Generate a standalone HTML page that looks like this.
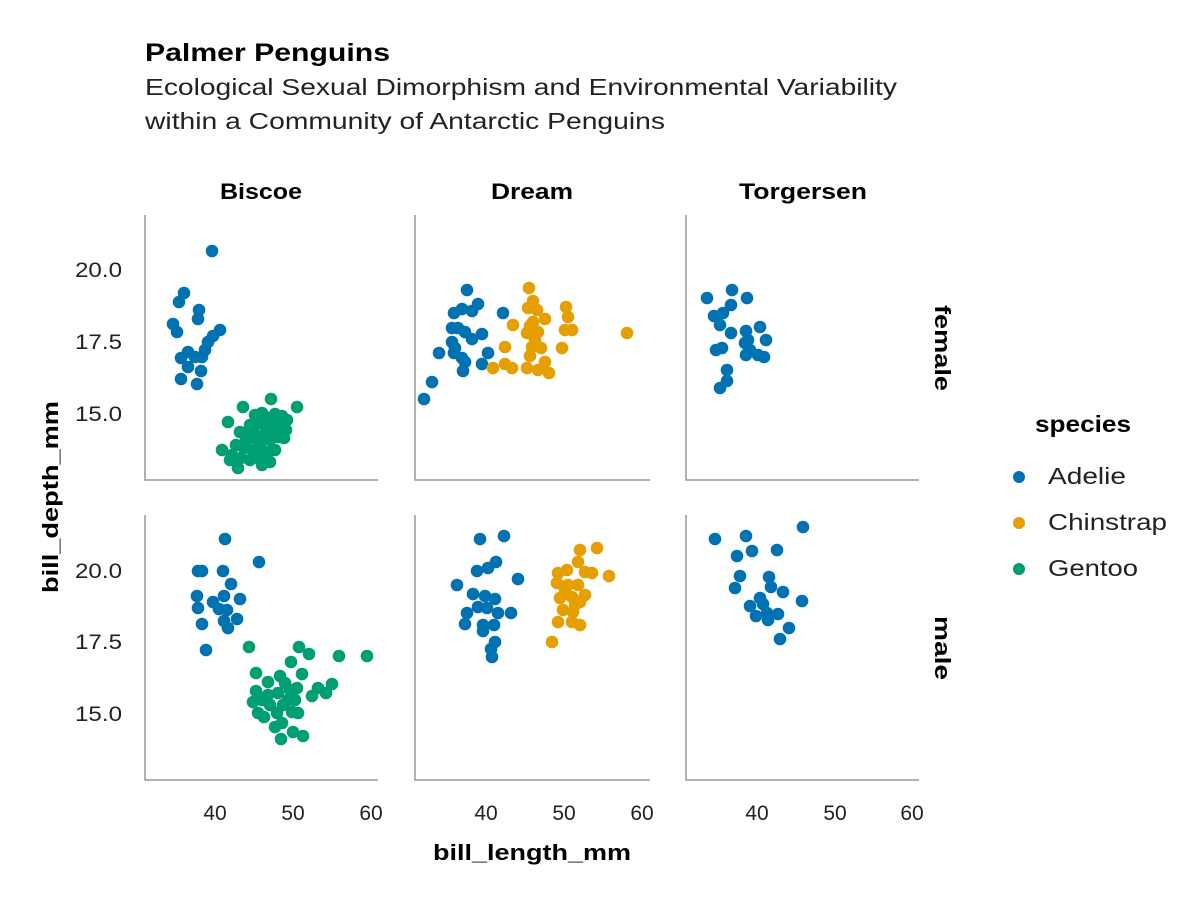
<!DOCTYPE html>
<html><head><meta charset="utf-8"><style>
body{margin:0;background:#fff;font-family:"Liberation Sans",sans-serif}
</style></head><body>
<svg width="1200" height="900" xmlns="http://www.w3.org/2000/svg" font-family="Liberation Sans, sans-serif">
<text x="145" y="61" font-size="25" font-weight="bold" fill="#000" textLength="245" lengthAdjust="spacingAndGlyphs">Palmer Penguins</text>
<text x="145" y="95" font-size="23" fill="#222" textLength="752" lengthAdjust="spacingAndGlyphs">Ecological Sexual Dimorphism and Environmental Variability</text>
<text x="145" y="129" font-size="23" fill="#222" textLength="520" lengthAdjust="spacingAndGlyphs">within a Community of Antarctic Penguins</text>
<g font-size="22" font-weight="bold" fill="#000">
<text x="220" y="199" textLength="82" lengthAdjust="spacingAndGlyphs">Biscoe</text><text x="491" y="199" textLength="82" lengthAdjust="spacingAndGlyphs">Dream</text><text x="739" y="199" textLength="128" lengthAdjust="spacingAndGlyphs">Torgersen</text>
<text transform="translate(935,305) rotate(90)" textLength="86" lengthAdjust="spacingAndGlyphs">female</text>
<text transform="translate(935,616) rotate(90)" textLength="64" lengthAdjust="spacingAndGlyphs">male</text>
<text x="433" y="860" textLength="198" lengthAdjust="spacingAndGlyphs">bill_length_mm</text>
<text transform="translate(58,593) rotate(-90)" textLength="192" lengthAdjust="spacingAndGlyphs">bill_depth_mm</text>
</g>
<g stroke="#999" stroke-width="1.5" fill="none">
<path d="M145,215V480H378"/><path d="M415,215V480H650"/><path d="M686,215V480H919"/>
<path d="M145,515V780H378"/><path d="M415,515V780H650"/><path d="M686,515V780H919"/>
</g>
<g font-size="21" fill="#222" text-anchor="end">
<text x="122" y="277" textLength="47" lengthAdjust="spacingAndGlyphs">20.0</text><text x="122" y="349" textLength="47" lengthAdjust="spacingAndGlyphs">17.5</text><text x="122" y="421" textLength="47" lengthAdjust="spacingAndGlyphs">15.0</text>
<text x="122" y="578" textLength="47" lengthAdjust="spacingAndGlyphs">20.0</text><text x="122" y="649" textLength="47" lengthAdjust="spacingAndGlyphs">17.5</text><text x="122" y="721" textLength="47" lengthAdjust="spacingAndGlyphs">15.0</text>
</g>
<g font-size="21" fill="#222" text-anchor="middle">
<text x="215" y="820">40</text><text x="293" y="820">50</text><text x="371" y="820">60</text>
<text x="486" y="820">40</text><text x="564" y="820">50</text><text x="642" y="820">60</text>
<text x="757" y="820">40</text><text x="835" y="820">50</text><text x="912" y="820">60</text>
</g>
<text x="1035" y="432" font-size="23" font-weight="bold" textLength="96" lengthAdjust="spacingAndGlyphs">species</text>
<circle cx="1019" cy="477" r="6" fill="#0072b2"/><text x="1048" y="484" font-size="23" fill="#222" textLength="78" lengthAdjust="spacingAndGlyphs">Adelie</text>
<circle cx="1019" cy="523" r="6" fill="#e69f00"/><text x="1048" y="530" font-size="23" fill="#222" textLength="119" lengthAdjust="spacingAndGlyphs">Chinstrap</text>
<circle cx="1019" cy="569" r="6" fill="#009e73"/><text x="1048" y="576" font-size="23" fill="#222" textLength="90" lengthAdjust="spacingAndGlyphs">Gentoo</text>
<g fill="#0072b2">
<circle cx="212" cy="251" r="6.3"/><circle cx="184" cy="293" r="6.3"/><circle cx="179" cy="302" r="6.3"/><circle cx="199" cy="310" r="6.3"/><circle cx="198" cy="319" r="6.3"/><circle cx="173" cy="324" r="6.3"/><circle cx="177" cy="332" r="6.3"/><circle cx="220" cy="330" r="6.3"/><circle cx="213" cy="336" r="6.3"/><circle cx="208" cy="342" r="6.3"/><circle cx="205" cy="350" r="6.3"/><circle cx="188" cy="352" r="6.3"/><circle cx="181" cy="358" r="6.3"/><circle cx="195" cy="357" r="6.3"/><circle cx="202" cy="357" r="6.3"/><circle cx="188" cy="367" r="6.3"/><circle cx="201" cy="371" r="6.3"/><circle cx="181" cy="379" r="6.3"/><circle cx="197" cy="384" r="6.3"/>
<circle cx="225" cy="539" r="6.3"/><circle cx="259" cy="562" r="6.3"/><circle cx="198" cy="571" r="6.3"/><circle cx="202" cy="571" r="6.3"/><circle cx="223" cy="571" r="6.3"/><circle cx="231" cy="584" r="6.3"/><circle cx="197" cy="596" r="6.3"/><circle cx="213" cy="602" r="6.3"/><circle cx="224" cy="596" r="6.3"/><circle cx="240" cy="599" r="6.3"/><circle cx="198" cy="608" r="6.3"/><circle cx="219" cy="609" r="6.3"/><circle cx="227" cy="610" r="6.3"/><circle cx="237" cy="619" r="6.3"/><circle cx="224" cy="621" r="6.3"/><circle cx="202" cy="624" r="6.3"/><circle cx="228" cy="628" r="6.3"/><circle cx="206" cy="650" r="6.3"/>
<circle cx="467" cy="290" r="6.3"/><circle cx="478" cy="304" r="6.3"/><circle cx="454" cy="313" r="6.3"/><circle cx="462" cy="309" r="6.3"/><circle cx="472" cy="311" r="6.3"/><circle cx="503" cy="313" r="6.3"/><circle cx="452" cy="328" r="6.3"/><circle cx="458" cy="328" r="6.3"/><circle cx="465" cy="332" r="6.3"/><circle cx="482" cy="334" r="6.3"/><circle cx="472" cy="339" r="6.3"/><circle cx="452" cy="342" r="6.3"/><circle cx="455" cy="348" r="6.3"/><circle cx="439" cy="353" r="6.3"/><circle cx="454" cy="353" r="6.3"/><circle cx="488" cy="353" r="6.3"/><circle cx="462" cy="358" r="6.3"/><circle cx="465" cy="362" r="6.3"/><circle cx="482" cy="364" r="6.3"/><circle cx="463" cy="371" r="6.3"/><circle cx="432" cy="382" r="6.3"/><circle cx="424" cy="399" r="6.3"/>
<circle cx="480" cy="539" r="6.3"/><circle cx="504" cy="536" r="6.3"/><circle cx="496" cy="562" r="6.3"/><circle cx="488" cy="568" r="6.3"/><circle cx="477" cy="571" r="6.3"/><circle cx="518" cy="579" r="6.3"/><circle cx="457" cy="585" r="6.3"/><circle cx="473" cy="594" r="6.3"/><circle cx="485" cy="596" r="6.3"/><circle cx="495" cy="599" r="6.3"/><circle cx="478" cy="607" r="6.3"/><circle cx="487" cy="608" r="6.3"/><circle cx="498" cy="613" r="6.3"/><circle cx="511" cy="613" r="6.3"/><circle cx="467" cy="613" r="6.3"/><circle cx="465" cy="624" r="6.3"/><circle cx="483" cy="625" r="6.3"/><circle cx="494" cy="625" r="6.3"/><circle cx="483" cy="631" r="6.3"/><circle cx="495" cy="642" r="6.3"/><circle cx="491" cy="649" r="6.3"/><circle cx="492" cy="657" r="6.3"/>
<circle cx="707" cy="298" r="6.3"/><circle cx="732" cy="290" r="6.3"/><circle cx="747" cy="298" r="6.3"/><circle cx="714" cy="316" r="6.3"/><circle cx="723" cy="313" r="6.3"/><circle cx="731" cy="305" r="6.3"/><circle cx="720" cy="325" r="6.3"/><circle cx="731" cy="333" r="6.3"/><circle cx="716" cy="350" r="6.3"/><circle cx="722" cy="348" r="6.3"/><circle cx="746" cy="331" r="6.3"/><circle cx="748" cy="340" r="6.3"/><circle cx="760" cy="327" r="6.3"/><circle cx="766" cy="340" r="6.3"/><circle cx="758" cy="355" r="6.3"/><circle cx="746" cy="355" r="6.3"/><circle cx="750" cy="350" r="6.3"/><circle cx="764" cy="357" r="6.3"/><circle cx="727" cy="370" r="6.3"/><circle cx="720" cy="388" r="6.3"/><circle cx="727" cy="381" r="6.3"/><circle cx="745" cy="343" r="6.3"/>
<circle cx="715" cy="539" r="6.3"/><circle cx="746" cy="536" r="6.3"/><circle cx="803" cy="527" r="6.3"/><circle cx="737" cy="556" r="6.3"/><circle cx="752" cy="551" r="6.3"/><circle cx="777" cy="550" r="6.3"/><circle cx="740" cy="576" r="6.3"/><circle cx="769" cy="577" r="6.3"/><circle cx="735" cy="588" r="6.3"/><circle cx="802" cy="601" r="6.3"/><circle cx="750" cy="606" r="6.3"/><circle cx="760" cy="598" r="6.3"/><circle cx="771" cy="587" r="6.3"/><circle cx="783" cy="592" r="6.3"/><circle cx="763" cy="604" r="6.3"/><circle cx="756" cy="616" r="6.3"/><circle cx="767" cy="613" r="6.3"/><circle cx="768" cy="620" r="6.3"/><circle cx="778" cy="614" r="6.3"/><circle cx="789" cy="628" r="6.3"/><circle cx="780" cy="639" r="6.3"/>
</g>
<g fill="#e69f00">
<circle cx="529" cy="288" r="6.3"/><circle cx="533" cy="301" r="6.3"/><circle cx="528" cy="308" r="6.3"/><circle cx="537" cy="310" r="6.3"/><circle cx="513" cy="325" r="6.3"/><circle cx="533" cy="322" r="6.3"/><circle cx="545" cy="319" r="6.3"/><circle cx="527" cy="333" r="6.3"/><circle cx="538" cy="332" r="6.3"/><circle cx="566" cy="307" r="6.3"/><circle cx="568" cy="317" r="6.3"/><circle cx="565" cy="330" r="6.3"/><circle cx="572" cy="330" r="6.3"/><circle cx="627" cy="333" r="6.3"/><circle cx="505" cy="347" r="6.3"/><circle cx="532" cy="347" r="6.3"/><circle cx="541" cy="348" r="6.3"/><circle cx="562" cy="348" r="6.3"/><circle cx="530" cy="356" r="6.3"/><circle cx="493" cy="368" r="6.3"/><circle cx="505" cy="364" r="6.3"/><circle cx="512" cy="368" r="6.3"/><circle cx="527" cy="368" r="6.3"/><circle cx="538" cy="370" r="6.3"/><circle cx="545" cy="362" r="6.3"/><circle cx="549" cy="373" r="6.3"/><circle cx="535" cy="340" r="6.3"/><circle cx="530" cy="326" r="6.3"/>
<circle cx="580" cy="550" r="6.3"/><circle cx="597" cy="548" r="6.3"/><circle cx="578" cy="562" r="6.3"/><circle cx="558" cy="573" r="6.3"/><circle cx="567" cy="570" r="6.3"/><circle cx="585" cy="572" r="6.3"/><circle cx="592" cy="573" r="6.3"/><circle cx="609" cy="576" r="6.3"/><circle cx="557" cy="583" r="6.3"/><circle cx="568" cy="585" r="6.3"/><circle cx="578" cy="585" r="6.3"/><circle cx="560" cy="598" r="6.3"/><circle cx="572" cy="597" r="6.3"/><circle cx="580" cy="602" r="6.3"/><circle cx="563" cy="610" r="6.3"/><circle cx="573" cy="612" r="6.3"/><circle cx="558" cy="622" r="6.3"/><circle cx="572" cy="622" r="6.3"/><circle cx="580" cy="625" r="6.3"/><circle cx="552" cy="642" r="6.3"/><circle cx="565" cy="590" r="6.3"/><circle cx="575" cy="605" r="6.3"/><circle cx="585" cy="595" r="6.3"/>
</g>
<g fill="#009e73">
<circle cx="243" cy="407" r="6.3"/><circle cx="271" cy="399" r="6.3"/><circle cx="297" cy="407" r="6.3"/><circle cx="228" cy="422" r="6.3"/><circle cx="222" cy="450" r="6.3"/><circle cx="238" cy="468" r="6.3"/><circle cx="262" cy="465" r="6.3"/><circle cx="255" cy="415" r="6.3"/><circle cx="262" cy="413" r="6.3"/><circle cx="268" cy="418" r="6.3"/><circle cx="275" cy="414" r="6.3"/><circle cx="282" cy="416" r="6.3"/><circle cx="287" cy="420" r="6.3"/><circle cx="250" cy="425" r="6.3"/><circle cx="258" cy="423" r="6.3"/><circle cx="266" cy="428" r="6.3"/><circle cx="274" cy="424" r="6.3"/><circle cx="280" cy="428" r="6.3"/><circle cx="286" cy="430" r="6.3"/><circle cx="240" cy="432" r="6.3"/><circle cx="247" cy="435" r="6.3"/><circle cx="255" cy="438" r="6.3"/><circle cx="262" cy="436" r="6.3"/><circle cx="270" cy="440" r="6.3"/><circle cx="278" cy="437" r="6.3"/><circle cx="284" cy="438" r="6.3"/><circle cx="236" cy="445" r="6.3"/><circle cx="244" cy="448" r="6.3"/><circle cx="252" cy="450" r="6.3"/><circle cx="260" cy="447" r="6.3"/><circle cx="268" cy="452" r="6.3"/><circle cx="275" cy="450" r="6.3"/><circle cx="232" cy="455" r="6.3"/><circle cx="241" cy="458" r="6.3"/><circle cx="250" cy="460" r="6.3"/><circle cx="258" cy="458" r="6.3"/><circle cx="265" cy="455" r="6.3"/><circle cx="246" cy="440" r="6.3"/><circle cx="272" cy="430" r="6.3"/><circle cx="253" cy="430" r="6.3"/><circle cx="264" cy="420" r="6.3"/><circle cx="230" cy="460" r="6.3"/><circle cx="270" cy="462" r="6.3"/>
<circle cx="249" cy="647" r="6.3"/><circle cx="299" cy="647" r="6.3"/><circle cx="309" cy="654" r="6.3"/><circle cx="339" cy="656" r="6.3"/><circle cx="367" cy="656" r="6.3"/><circle cx="291" cy="662" r="6.3"/><circle cx="256" cy="673" r="6.3"/><circle cx="268" cy="682" r="6.3"/><circle cx="280" cy="676" r="6.3"/><circle cx="302" cy="674" r="6.3"/><circle cx="332" cy="684" r="6.3"/><circle cx="318" cy="688" r="6.3"/><circle cx="326" cy="693" r="6.3"/><circle cx="312" cy="696" r="6.3"/><circle cx="256" cy="691" r="6.3"/><circle cx="253" cy="702" r="6.3"/><circle cx="258" cy="713" r="6.3"/><circle cx="264" cy="717" r="6.3"/><circle cx="277" cy="713" r="6.3"/><circle cx="292" cy="712" r="6.3"/><circle cx="298" cy="713" r="6.3"/><circle cx="288" cy="700" r="6.3"/><circle cx="278" cy="693" r="6.3"/><circle cx="297" cy="688" r="6.3"/><circle cx="285" cy="683" r="6.3"/><circle cx="275" cy="727" r="6.3"/><circle cx="282" cy="723" r="6.3"/><circle cx="293" cy="732" r="6.3"/><circle cx="303" cy="736" r="6.3"/><circle cx="281" cy="739" r="6.3"/><circle cx="262" cy="700" r="6.3"/><circle cx="270" cy="705" r="6.3"/><circle cx="290" cy="690" r="6.3"/><circle cx="283" cy="705" r="6.3"/><circle cx="268" cy="695" r="6.3"/><circle cx="295" cy="700" r="6.3"/>
</g>
</svg>
</body></html>
